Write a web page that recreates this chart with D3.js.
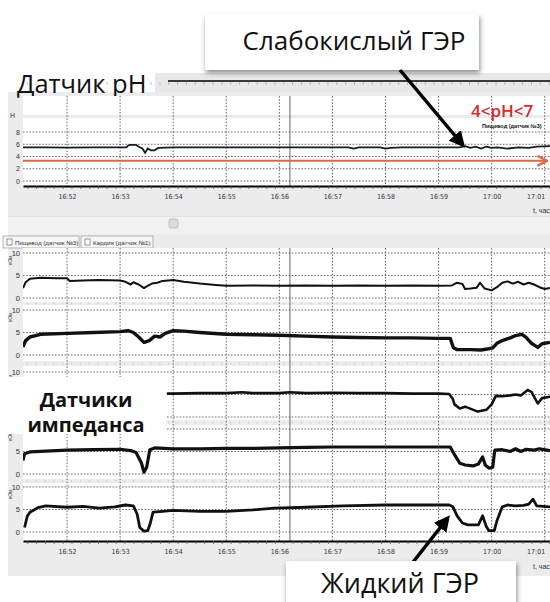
<!DOCTYPE html>
<html>
<head>
<meta charset="utf-8">
<script src="https://cdn.jsdelivr.net/npm/d3@7/dist/d3.min.js"></script>
<style>
    body { margin: 0; background: #fff; }
    svg { display: block; font-family: "Liberation Sans", Arial, sans-serif; }
</style>
</head>
<body>
<svg id="chart" width="550" height="602"></svg>
<script>
// time values are decimal minutes after 16:00
var minuteTicks = [52, 53, 54, 55, 56, 57, 58, 59, 60, 61];
var minuteLabels = ["16:52", "16:53", "16:54", "16:55", "16:56", "16:57", "16:58", "16:59", "17:00", "17:01"];
var phTicks = [0, 2, 4, 6, 8];
var impTicks = [0, 5, 10];
var tabNames = ["Пищевод (датчик №3)", "Кардия (датчик №1)"];
var cursorTime = 56.2;
var phLow = 3.3;

var phSeries = [
    [51.17, 5.5], [51.6, 5.5], [52.0, 5.45], [52.5, 5.5], [53.0, 5.5], [53.12, 5.5], [53.15, 5.8],
    [53.2, 5.9], [53.3, 5.9], [53.35, 5.6], [53.42, 5.3], [53.47, 4.6], [53.52, 5.3], [53.58, 5.0],
    [53.65, 5.0], [53.72, 5.4], [54.0, 5.5], [55.0, 5.5], [56.0, 5.5], [57.0, 5.5], [57.3, 5.5],
    [57.4, 5.3], [57.5, 5.5], [57.9, 5.5], [58.0, 5.3], [58.1, 5.4], [58.3, 5.5], [59.4, 5.5],
    [59.5, 5.7], [59.6, 5.4], [59.7, 5.6], [59.8, 5.3], [59.9, 5.6], [60.0, 5.4], [60.1, 5.5],
    [60.3, 5.3], [60.5, 5.5], [60.7, 5.4], [60.85, 5.6], [61.1, 5.7]
];

var imp1 = [
    [51.17, 2.2], [51.22, 3.5], [51.3, 4.3], [51.5, 4.5], [51.8, 4.4], [52.0, 4.4], [52.05, 3.8],
    [52.3, 3.9], [52.6, 4.0], [53.0, 3.9], [53.1, 3.6], [53.2, 3.0], [53.25, 3.5], [53.35, 3.0],
    [53.45, 2.2], [53.5, 2.6], [53.6, 3.2], [53.7, 3.4], [53.8, 3.8], [54.0, 4.0], [54.2, 3.6],
    [54.5, 3.2], [54.8, 2.9], [55.0, 2.7], [55.5, 2.8], [56.0, 2.7], [56.5, 2.8], [57.0, 2.7],
    [57.5, 2.8], [58.0, 2.7], [58.5, 2.8], [59.0, 2.7], [59.25, 2.8], [59.35, 3.4], [59.45, 3.1],
    [59.5, 2.0], [59.6, 2.1], [59.72, 2.3], [59.78, 3.4], [59.87, 2.1], [60.0, 1.7], [60.1, 2.4],
    [60.2, 3.4], [60.3, 3.7], [60.4, 3.2], [60.5, 3.6], [60.6, 3.0], [60.7, 3.4], [60.8, 3.0],
    [60.9, 2.4], [61.0, 2.0], [61.1, 2.2]
];
var imp2 = [
    [51.17, 1.8], [51.22, 3.2], [51.3, 4.0], [51.5, 4.6], [52.0, 4.8], [52.5, 5.0], [53.0, 5.2],
    [53.15, 5.4], [53.25, 5.0], [53.35, 4.0], [53.45, 2.8], [53.55, 3.2], [53.65, 4.2], [53.75, 4.0],
    [53.85, 4.8], [54.0, 5.4], [54.2, 5.3], [54.5, 5.0], [55.0, 4.6], [55.5, 4.5], [56.0, 4.4],
    [56.5, 4.2], [57.0, 4.0], [57.5, 3.9], [58.0, 3.8], [58.5, 3.8], [59.0, 3.7], [59.22, 3.7],
    [59.28, 1.6], [59.35, 1.2], [59.6, 1.2], [59.8, 1.1], [59.95, 1.4], [60.02, 1.6], [60.1, 2.6],
    [60.2, 3.2], [60.35, 3.8], [60.45, 4.3], [60.57, 4.6], [60.65, 3.9], [60.75, 2.6], [60.87, 1.7],
    [60.95, 2.5], [61.1, 2.8]
];
var imp3 = [
    [53.88, 5.2], [54.0, 5.2], [54.5, 5.3], [55.0, 5.3], [55.3, 5.5], [55.5, 5.3], [56.0, 5.3],
    [56.2, 5.5], [56.5, 5.3], [57.0, 5.4], [57.5, 5.3], [58.0, 5.3], [58.5, 5.2], [59.0, 5.2],
    [59.2, 5.1], [59.27, 4.0], [59.3, 2.8], [59.4, 1.9], [59.5, 2.3], [59.74, 1.2], [59.9, 1.6],
    [60.0, 2.8], [60.08, 4.7], [60.2, 4.6], [60.35, 4.8], [60.45, 5.0], [60.55, 4.8], [60.68, 6.0],
    [60.75, 5.6], [60.87, 3.0], [60.95, 4.2], [61.1, 4.5]
];
var imp4 = [
    [51.17, 3.0], [51.2, 4.5], [51.3, 4.9], [51.6, 5.1], [52.0, 5.3], [52.5, 5.4], [53.0, 5.5],
    [53.2, 5.2], [53.3, 4.8], [53.4, 2.5], [53.45, 0.4], [53.5, 1.5], [53.56, 5.4], [53.65, 5.8],
    [54.0, 5.6], [54.5, 5.6], [55.0, 5.7], [55.5, 5.7], [56.0, 5.8], [56.5, 5.9], [57.0, 6.0],
    [57.5, 6.0], [58.0, 6.0], [58.5, 6.0], [59.0, 6.0], [59.22, 6.0], [59.28, 4.7], [59.4, 2.4],
    [59.5, 2.0], [59.65, 1.8], [59.75, 2.2], [59.83, 3.8], [59.88, 2.0], [59.95, 1.3], [60.02, 1.5],
    [60.06, 5.3], [60.2, 5.4], [60.35, 5.0], [60.45, 5.6], [60.55, 5.0], [60.65, 5.5], [60.8, 5.3],
    [60.9, 5.6], [61.1, 5.2]
];
var imp5 = [
    [51.2, 1.0], [51.25, 3.5], [51.3, 4.4], [51.45, 5.4], [51.6, 5.8], [52.0, 5.5], [52.3, 5.7],
    [52.6, 5.3], [52.9, 5.6], [53.1, 6.0], [53.25, 5.8], [53.32, 4.0], [53.37, 1.0], [53.45, 0.2],
    [53.52, 0.3], [53.57, 2.0], [53.62, 4.4], [53.8, 4.6], [54.0, 4.8], [54.5, 4.6], [55.0, 4.6],
    [55.5, 4.9], [55.9, 5.3], [56.5, 5.5], [57.2, 5.8], [58.0, 6.0], [59.0, 6.0], [59.2, 6.0],
    [59.27, 5.6], [59.35, 3.6], [59.45, 2.0], [59.55, 1.6], [59.75, 1.6], [59.83, 3.6], [59.9, 1.2],
    [59.95, 0.3], [60.05, 0.3], [60.1, 2.5], [60.2, 5.6], [60.3, 6.0], [60.45, 5.8], [60.6, 5.9],
    [60.7, 6.2], [60.78, 7.3], [60.85, 5.8], [61.1, 5.6]
];
var impedanceSeries = [imp1, imp2, imp3, imp4, imp5];
var impStroke = [2, 3.4, 2.6, 3.2, 2.8];

var svg = d3.select("#chart");
var x = d3.scaleLinear().domain([51.17, 61.1]).range([23, 550]);
var yPh = d3.scaleLinear().domain([0, 8]).range([181, 132]);
var panelTops = [253, 310, 372, 429, 487];
var yImp = panelTops.map(function (t) { return d3.scaleLinear().domain([0, 10]).range([t + 45, t]); });
var minorTicks = d3.range(51.25, 61.1, 1 / 6);

var defs = svg.append("defs");
defs.append("clipPath").attr("id", "plotClip")
    .append("rect").attr("x", 23).attr("y", 90).attr("width", 527).attr("height", 460);
defs.append("marker").attr("id", "headBlack")
    .attr("viewBox", "0 0 10 10").attr("refX", 7).attr("refY", 5)
    .attr("markerWidth", 16).attr("markerHeight", 16)
    .attr("markerUnits", "userSpaceOnUse").attr("orient", "auto")
    .append("path").attr("d", "M0,0 L10,5 L0,10 Z").attr("fill", "#000");
defs.append("marker").attr("id", "headRed")
    .attr("viewBox", "0 0 10 10").attr("refX", 9).attr("refY", 5)
    .attr("markerWidth", 12).attr("markerHeight", 12)
    .attr("markerUnits", "userSpaceOnUse").attr("orient", "auto")
    .append("path").attr("d", "M1,1 L9,5 L1,9").attr("fill", "none")
    .attr("stroke", "#de6a45").attr("stroke-width", 2);
var shadow = defs.append("filter").attr("id", "shadow")
    .attr("x", "-10%").attr("y", "-10%").attr("width", "130%").attr("height", "140%");
shadow.append("feDropShadow").attr("dx", 1).attr("dy", 3).attr("stdDeviation", 2.5)
    .attr("flood-color", "#000").attr("flood-opacity", 0.45);

// ---------- frames ----------
svg.append("rect").attr("x", 8).attr("y", 92).attr("width", 542).attr("height", 123).attr("fill", "#ececec");
svg.append("rect").attr("x", 8).attr("y", 216).attr("width", 542).attr("height", 18).attr("fill", "#f1f1f1");
svg.append("line").attr("x1", 8).attr("x2", 550).attr("y1", 216).attr("y2", 216).attr("stroke", "#d6d6d6");
svg.append("rect").attr("x", 169).attr("y", 219).attr("width", 9).attr("height", 9).attr("rx", 2)
    .attr("fill", "#dcdcdc").attr("stroke", "#aaa").attr("stroke-width", 0.6);
svg.append("rect").attr("x", 8).attr("y", 234).attr("width", 542).attr("height", 342).attr("fill", "#ececec");

// header strip with "Датчик pH"
svg.append("rect").attr("x", 155).attr("y", 73).attr("width", 395).attr("height", 19).attr("fill", "#e8e8e8");
svg.append("line").attr("x1", 168).attr("x2", 550).attr("y1", 81).attr("y2", 81).attr("stroke", "#000").attr("stroke-width", 1.6);
svg.append("g").selectAll("line").data(minorTicks).enter().append("line")
    .attr("x1", x).attr("x2", x).attr("y1", 82).attr("y2", 85).attr("stroke", "#999").attr("stroke-width", 0.6);
svg.append("text").attr("x", 17).attr("y", 93).attr("font-family", "'Open Sans', sans-serif")
    .attr("font-size", 25.5).attr("fill", "#111").text("Датчик pH");

// ---------- pH panel ----------
svg.append("rect").attr("x", 23).attr("y", 96).attr("width", 527).attr("height", 90).attr("fill", "#fff");
svg.append("rect").attr("x", 23).attr("y", 115).attr("width", 527).attr("height", 3).attr("fill", "#ebebeb");

var dotted = { stroke: "#444", width: 0.8, dash: "1.6,1.6" };
svg.append("g").selectAll("line").data(minuteTicks).enter().append("line")
    .attr("x1", x).attr("x2", x).attr("y1", 96).attr("y2", 186)
    .attr("stroke", dotted.stroke).attr("stroke-width", dotted.width).attr("stroke-dasharray", dotted.dash);
svg.append("g").selectAll("line").data(phTicks).enter().append("line")
    .attr("x1", 23).attr("x2", 550).attr("y1", yPh).attr("y2", yPh)
    .attr("stroke", dotted.stroke).attr("stroke-width", dotted.width).attr("stroke-dasharray", dotted.dash);

svg.append("g").attr("font-size", 7).attr("fill", "#333").attr("text-anchor", "end")
    .selectAll("text").data(phTicks).enter().append("text")
    .attr("x", 20).attr("y", function (d) { return yPh(d) + 2.5; }).text(function (d) { return d; });
svg.append("text").attr("x", 10).attr("y", 118).attr("font-size", 7).attr("fill", "#333").text("H");

svg.append("line").attr("x1", x(cursorTime)).attr("x2", x(cursorTime)).attr("y1", 96).attr("y2", 186)
    .attr("stroke", "#555").attr("stroke-width", 0.9);

var phLine = d3.line().x(function (d) { return x(d[0]); }).y(function (d) { return yPh(d[1]); });
svg.append("path").datum(phSeries).attr("d", phLine).attr("clip-path", "url(#plotClip)")
    .attr("fill", "none").attr("stroke", "#1a1a1a").attr("stroke-width", 1.8);

svg.append("line").attr("x1", 23).attr("x2", 547).attr("y1", yPh(phLow)).attr("y2", yPh(phLow))
    .attr("stroke", "#de6a45").attr("stroke-width", 2).attr("marker-end", "url(#headRed)");

function drawTimeAxis(yPos) {
    var g = svg.append("g").attr("transform", "translate(0," + yPos + ")")
        .call(d3.axisBottom(x).tickValues(minuteTicks).tickSize(0).tickPadding(8)
            .tickFormat(function (d, i) { return minuteLabels[i]; }));
    g.select(".domain").attr("stroke", "#000").attr("stroke-width", 2);
    g.selectAll("text").attr("font-size", 7).attr("fill", "#333")
        .attr("font-family", "'Liberation Sans Narrow', 'DejaVu Sans Condensed', sans-serif");
    // last label sits at the right edge: keep it whole
    g.selectAll(".tick").filter(function (d) { return d === 61; }).select("text")
        .attr("text-anchor", "end").attr("x", 0);
    svg.append("g").attr("transform", "translate(0," + yPos + ")")
        .call(d3.axisBottom(x).tickValues(minorTicks).tickSize(3).tickFormat(""))
        .call(function (s) { s.select(".domain").remove(); })
        .selectAll("line").attr("stroke", "#555").attr("stroke-width", 0.7);
}
drawTimeAxis(186);
svg.append("text").attr("x", 533).attr("y", 213).attr("font-size", 7).attr("fill", "#333").text("t, час");

svg.append("text").attr("x", 482).attr("y", 128).attr("font-size", 5.5).attr("font-weight", "bold")
    .attr("fill", "#111").text("Пищевод (датчик №3)");
svg.append("text").attr("x", 471).attr("y", 117).attr("font-family", "'Open Sans', sans-serif")
    .attr("font-size", 17).attr("font-weight", 600).attr("fill", "#d9282b").text("4<pH<7");

// ---------- tabs ----------
var tabX = [3, 81];
var tabW = [76, 72];
var tabs = svg.append("g").selectAll("g").data(tabNames).enter().append("g")
    .attr("transform", function (d, i) { return "translate(" + tabX[i] + ",236)"; });
tabs.append("rect").attr("width", function (d, i) { return tabW[i]; }).attr("height", 12)
    .attr("fill", "#f6f6f6").attr("stroke", "#999").attr("stroke-width", 0.7);
tabs.append("rect").attr("x", 4).attr("y", 3).attr("width", 5).attr("height", 6)
    .attr("fill", "#fff").attr("stroke", "#555").attr("stroke-width", 0.6);
tabs.append("text").attr("x", 12).attr("y", 8.5).attr("font-size", 6.2).attr("fill", "#333")
    .text(function (d) { return d; });

// ---------- impedance panels ----------
var panelWhite = [[248, 302], [305, 361], [366, 420], [425, 479], [483, 541]];
svg.append("g").selectAll("rect").data(panelWhite).enter().append("rect")
    .attr("x", 23).attr("y", function (d) { return d[0]; }).attr("width", 527)
    .attr("height", function (d) { return d[1] - d[0]; }).attr("fill", "#fff");
var bandDots = svg.append("g");
panelWhite.slice(1).forEach(function (p, i) {
    var mid = (panelWhite[i][1] + p[0]) / 2;
    bandDots.selectAll(null).data(minorTicks).enter().append("line")
        .attr("x1", x).attr("x2", x).attr("y1", mid - 0.8).attr("y2", mid + 0.8)
        .attr("stroke", "#bbb").attr("stroke-width", 0.8);
});

svg.append("g").selectAll("line").data(minuteTicks).enter().append("line")
    .attr("x1", x).attr("x2", x).attr("y1", 248).attr("y2", 541)
    .attr("stroke", dotted.stroke).attr("stroke-width", dotted.width).attr("stroke-dasharray", dotted.dash);

yImp.forEach(function (y, i) {
    svg.append("g").selectAll("line").data(impTicks).enter().append("line")
        .attr("x1", 23).attr("x2", 550).attr("y1", y).attr("y2", y)
        .attr("stroke", dotted.stroke).attr("stroke-width", dotted.width).attr("stroke-dasharray", dotted.dash);
    svg.append("g").attr("font-size", 7.5).attr("fill", "#333").attr("text-anchor", "end")
        .selectAll("text").data(impTicks).enter().append("text")
        .attr("x", 20).attr("y", function (d) { return y(d) + 2.5; }).text(function (d) { return d; });
    svg.append("text").attr("transform", "translate(12," + (y(10) + 12) + ") rotate(-90)")
        .attr("font-size", 5).attr("fill", "#444").text("кОм");
});

svg.append("line").attr("x1", x(cursorTime)).attr("x2", x(cursorTime)).attr("y1", 248).attr("y2", 541)
    .attr("stroke", "#555").attr("stroke-width", 0.9);

impedanceSeries.forEach(function (series, i) {
    var line = d3.line().x(function (d) { return x(d[0]); }).y(function (d) { return yImp[i](d[1]); });
    svg.append("path").datum(series).attr("d", line).attr("clip-path", "url(#plotClip)")
        .attr("fill", "none").attr("stroke", "#111").attr("stroke-width", impStroke[i])
        .attr("stroke-linejoin", "round");
});

drawTimeAxis(541);
svg.append("text").attr("x", 533).attr("y", 569).attr("font-size", 7).attr("fill", "#333").text("t, час");

// ---------- annotations ----------
svg.append("rect").attr("x", 0).attr("y", 377).attr("width", 166).attr("height", 57).attr("fill", "#fff");
svg.append("text").attr("x", 86).attr("y", 407).attr("text-anchor", "middle")
    .attr("font-family", "'Open Sans', sans-serif").attr("font-weight", "bold").attr("font-size", 20)
    .attr("fill", "#111").text("Датчики");
svg.append("text").attr("x", 86).attr("y", 432).attr("text-anchor", "middle")
    .attr("font-family", "'Open Sans', sans-serif").attr("font-weight", "bold").attr("font-size", 20)
    .attr("fill", "#111").text("импеданса");

svg.append("rect").attr("x", 205).attr("y", 14).attr("width", 274).attr("height", 56)
    .attr("fill", "#fff").attr("filter", "url(#shadow)");
svg.append("text").attr("x", 354).attr("y", 50).attr("text-anchor", "middle")
    .attr("font-family", "'Open Sans', sans-serif").attr("font-size", 26).attr("fill", "#111")
    .text("Слабокислый ГЭР");
svg.append("line").attr("x1", 400).attr("y1", 70).attr("x2", 462).attr("y2", 144)
    .attr("stroke", "#000").attr("stroke-width", 3.5).attr("marker-end", "url(#headBlack)");

svg.append("line").attr("x1", 410).attr("y1", 566).attr("x2", 447).attr("y2", 519)
    .attr("stroke", "#000").attr("stroke-width", 3.5).attr("marker-end", "url(#headBlack)");
svg.append("rect").attr("x", 286).attr("y", 561).attr("width", 230).attr("height", 50)
    .attr("fill", "#fff").attr("filter", "url(#shadow)");
svg.append("text").attr("x", 400).attr("y", 593).attr("text-anchor", "middle")
    .attr("font-family", "'Open Sans', sans-serif").attr("font-size", 27).attr("fill", "#111")
    .text("Жидкий ГЭР");
</script>
</body>
</html>
